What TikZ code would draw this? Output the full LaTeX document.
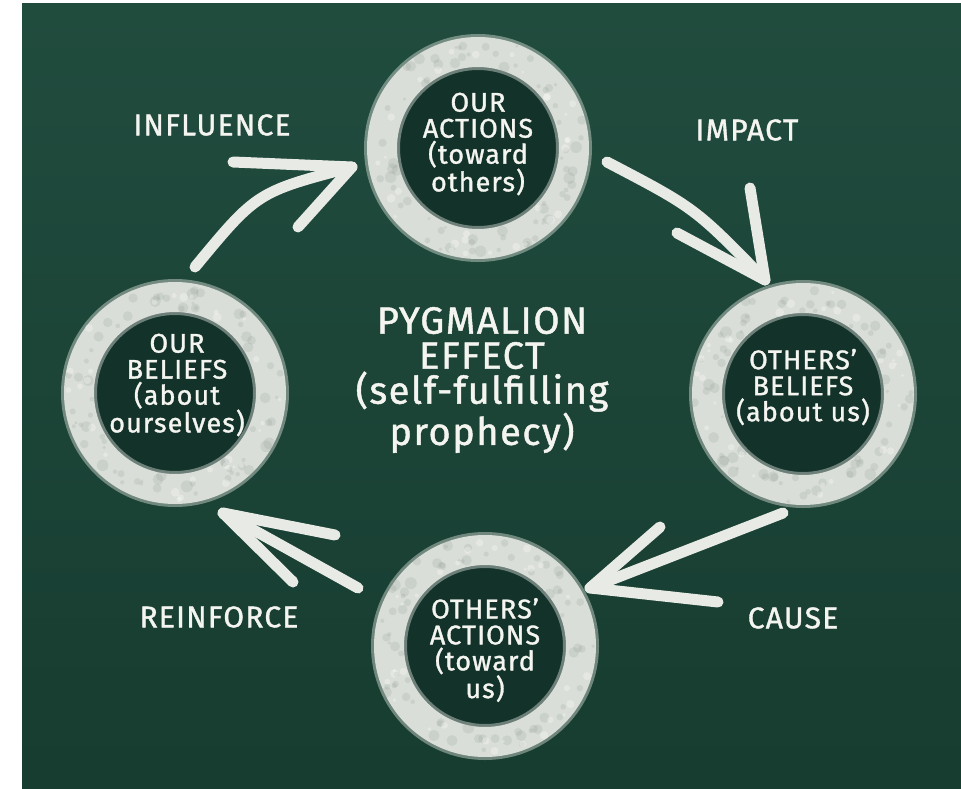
\documentclass[tikz,border=0pt]{standalone}
\usepackage{fontspec}
\setmainfont{Fira Sans}[LetterSpace=4, FakeBold=1.2]
\definecolor{boardA}{HTML}{204C3E}
\definecolor{boardB}{HTML}{173C30}
\definecolor{disc}{HTML}{13322A}
\definecolor{ringc}{HTML}{DADED8}
\definecolor{ringd}{HTML}{8E9A93}
\definecolor{chalkc}{HTML}{E8EAE5}
\definecolor{chalkt}{HTML}{F4F4F0}
\usetikzlibrary{calc}
\newcommand\chalkring[2]{%
  \fill[disc] (#1,#2) circle (82);
  \draw[ringc, opacity=0.45, line width=36pt] (#1,#2) circle (96);
  \draw[ringc, line width=30pt] (#1,#2) circle (96);
  \foreach \i in {1,...,70}{
    \pgfmathsetmacro\aa{rnd*360}
    \pgfmathsetmacro\rr{83+rnd*26}
    \pgfmathsetmacro\ss{1.5+rnd*4.5}
    \fill[ringd, opacity=0.2] ($(#1,#2)+(\aa:\rr)$) circle (\ss);}
  \foreach \i in {1,...,30}{
    \pgfmathsetmacro\aa{rnd*360}
    \pgfmathsetmacro\rr{84+rnd*24}
    \pgfmathsetmacro\ss{1.5+rnd*3}
    \fill[white, opacity=0.3] ($(#1,#2)+(\aa:\rr)$) circle (\ss);}
}
\begin{document}
\begin{tikzpicture}[x=1pt,y=-1pt,
  chalk/.style={line width=11pt, draw=chalkc, line cap=round, line join=round},
  lbl/.style={text=chalkt, font=\fontsize{30}{32}\selectfont, inner sep=0pt},
  ctext/.style={text=chalkt, align=center, font=\fontsize{27}{26}\selectfont, inner sep=0pt},
  mtext/.style={text=chalkt, align=center, font=\fontsize{38}{35}\selectfont, inner sep=0pt}]
\pgfmathsetseed{7}
\useasboundingbox (0,0) rectangle (961,789);
\fill[white] (0,0) rectangle (961,789);
\shade[top color=boardA, bottom color=boardB] (22,4) rectangle (961,789);

% rings
\chalkring{478}{148}
\chalkring{175}{393}
\chalkring{803}{394}
\chalkring{485}{646}

% circle texts
\node[ctext] (ouract) at (478,144) {OUR\\ACTIONS\\(toward\\others)};
\node[ctext] (ourbel) at (177,385) {OUR\\BELIEFS\\(about\\ourselves)};
\node[ctext] (othbel) at (803,387) {OTHERS’\\BELIEFS\\(about us)};
\node[ctext] (othact) at (485,650) {OTHERS’\\ACTIONS\\(toward\\us)};

% center text
\node[mtext] (title) at (482,380) {PYGMALION\\EFFECT\\(self-fulfilling\\prophecy)};

% labels
\node[lbl] (linf) at (212,125) {INFLUENCE};
\node[lbl] (limp) at (747,130) {IMPACT};
\node[lbl] (lrei) at (219,617) {REINFORCE};
\node[lbl] (lcau) at (793,618) {CAUSE};

% arrow coordinates
\coordinate (iT) at (195,267); \coordinate (iH) at (352,167);
\coordinate (iB1) at (233,162); \coordinate (iB2) at (298,227);
\coordinate (pT) at (607,162); \coordinate (pH) at (765,280);
\coordinate (pB1) at (677,233); \coordinate (pB2) at (750,188);
\coordinate (rT) at (358,588); \coordinate (rH) at (223,513);
\coordinate (rB1) at (335,535); \coordinate (rB2) at (293,582);
\coordinate (cT) at (783,513); \coordinate (cH) at (590,588);
\coordinate (cB1) at (660,527); \coordinate (cB2) at (718,602);

% arrows
\draw[chalk] (iT) .. controls (257,192) .. (iH);
\draw[chalk] (iB1) -- (iH) -- (iB2);
\draw[chalk] (pT) .. controls (695,208) .. (pH);
\draw[chalk] (pB1) -- (pH) -- (pB2);
\draw[chalk] (rT) -- (rH);
\draw[chalk] (rB1) -- (rH) -- (rB2);
\draw[chalk] (cT) -- (cH);
\draw[chalk] (cB1) -- (cH) -- (cB2);
\end{tikzpicture}
\end{document}
